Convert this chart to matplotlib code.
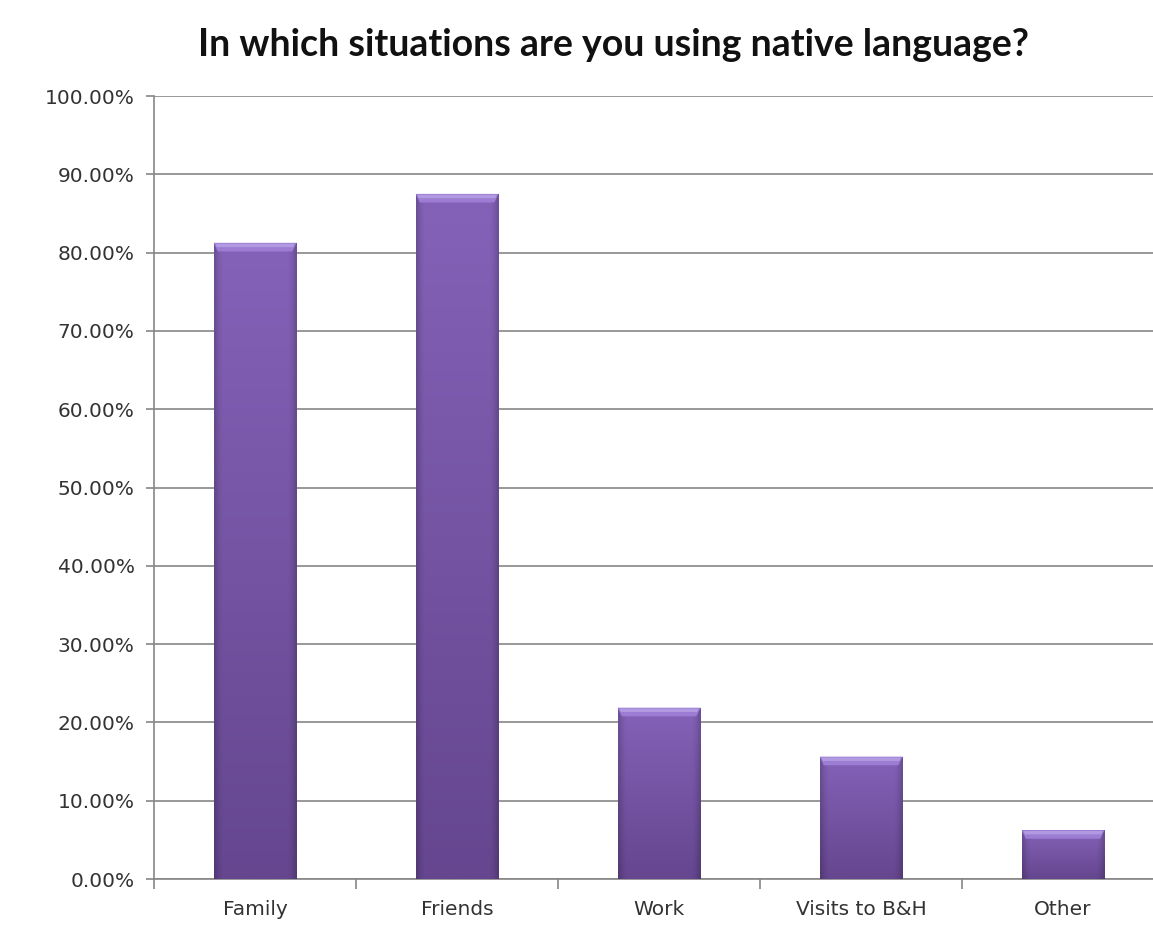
import numpy as np
import matplotlib
matplotlib.use("Agg")
import matplotlib.pyplot as plt
from matplotlib.ticker import FuncFormatter, FixedLocator
from matplotlib.colors import to_rgb

# survey answers, share of respondents (%)
categories = ["Family", "Friends", "Work", "Visits to B&H", "Other"]
shares = [81.25, 87.5, 21.88, 15.63, 6.25]

fig = plt.figure(figsize=(11.53, 9.25), dpi=100)
ax = fig.add_axes([0.1336, 0.0497, 0.876, 0.8465])

x = np.arange(len(categories)) + 0.5
width = 0.41

# shaded fill: lighter at top, darker at bottom, darker at the sides
top_c = np.array(to_rgb("#8462b8"))
bot_c = np.array(to_rgb("#65468f"))
ny, nx = 60, 40
vy = np.linspace(1, 0, ny)[:, None, None]
body = vy * top_c + (1 - vy) * bot_c
sx = np.linspace(-1, 1, nx)
side = 1 - 0.18 * np.clip((np.abs(sx) - 0.8) / 0.2, 0, 1) ** 1.5
shade = np.clip(body * side[None, :, None], 0, 1)

bars = ax.bar(x, shares, width=width, color="#7352a2", edgecolor="#5a3d86",
              linewidth=0.6, zorder=3)
for b in bars:
    x0, w, h = b.get_x(), b.get_width(), b.get_height()
    im = ax.imshow(shade, extent=[x0, x0 + w, 0, h], aspect="auto",
                   zorder=3.1, interpolation="bilinear")
    im.set_clip_path(b)
    # bevelled top cap
    cap = min(1.1, h * 0.3)
    ax.fill([x0, x0 + w, x0 + w * 0.95, x0 + w * 0.05],
            [h, h, h - cap, h - cap], color="#9c7dd3", lw=0, zorder=3.2)
    ax.fill([x0 + w * 0.02, x0 + w * 0.98, x0 + w * 0.96, x0 + w * 0.04],
            [h - cap * 0.1, h - cap * 0.1, h - cap * 0.5, h - cap * 0.5],
            color="#b29ae2", lw=0, zorder=3.3)

ax.set_xlim(0, len(categories))
ax.set_ylim(0, 100)
ax.set_yticks(np.arange(0, 101, 10))
ax.yaxis.set_major_formatter(FuncFormatter(lambda v, p: "%.2f%%" % v))
ax.grid(axis="y", color="#868686", linewidth=1.2, zorder=0)

ax.set_xticks(x)
ax.set_xticklabels(categories)
ax.xaxis.set_minor_locator(FixedLocator(np.arange(0, len(categories) + 1)))
ax.tick_params(axis="x", which="major", length=0, pad=15, labelsize=14.5,
               labelcolor="#333333")
ax.tick_params(axis="x", which="minor", length=7, width=1.2, color="#868686",
               direction="out")
ax.tick_params(axis="y", length=6, width=1.2, color="#868686", pad=8,
               labelsize=14.5, labelcolor="#333333")

for s in ["top", "right"]:
    ax.spines[s].set_visible(False)
for s in ["left", "bottom"]:
    ax.spines[s].set_color("#868686")
    ax.spines[s].set_linewidth(1.2)

fig.text(0.532, 0.951, "In which situations are you using native language?",
         ha="center", va="center", fontsize=27, fontweight="bold",
         family="Lato", color="#111111")

fig.savefig("out.png", dpi=100, facecolor="white")
